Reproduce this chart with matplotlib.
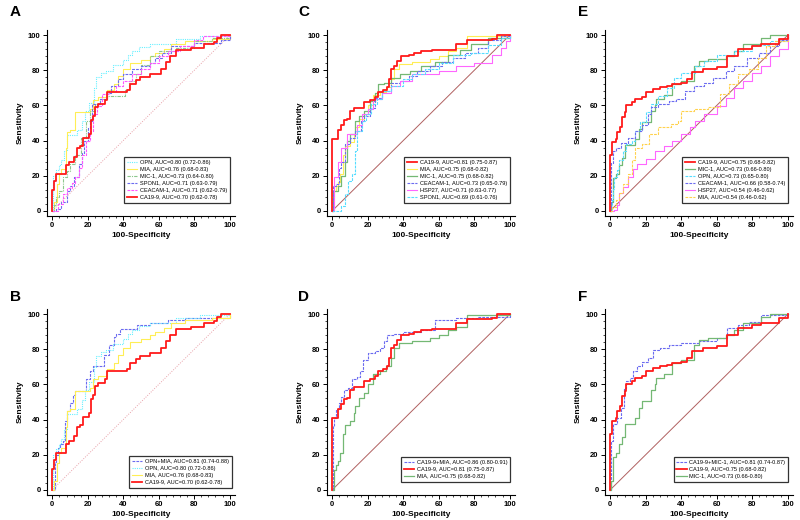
import numpy as np
import matplotlib
matplotlib.use("Agg")
import matplotlib.pyplot as plt
from matplotlib.ticker import MultipleLocator

plt.rcParams['font.family'] = ['Liberation Sans', 'DejaVu Sans']

# ---- ROC curve corner points (100-Specificity, Sensitivity) ----
ca199_a_fpr = [0, 0, 1, 2, 7.5, 9.5, 12.5, 14, 15.5, 17.5, 20.5, 22, 23, 24, 26, 29.5, 31, 42, 44, 47,
               49.5, 55, 61, 64, 66.5, 70, 78, 85.5, 91, 93, 95, 100]
ca199_a_tpr = [0, 12, 17, 21, 26, 28, 30.5, 35.5, 37, 41.5, 43.5, 51.5, 54, 59, 61, 63, 67.5, 69, 72, 74.5,
               76.5, 78, 81, 84.5, 88, 91.5, 93, 95, 96, 98.5, 100, 100]

opn_a_fpr = [0, 0.5, 2, 3.5, 5, 6.5, 8, 11, 14, 16.5, 18.5, 20.5, 23.5, 24.5, 27.5, 30, 34, 40, 42.5, 45,
             49, 55, 70, 83, 100]
opn_a_tpr = [0, 20, 23, 26, 29, 34, 43, 43, 46, 51, 57, 61.5, 70, 76, 78.5, 79.5, 83, 86, 89, 91,
             93.5, 95, 98, 99.5, 100]

mia_a_fpr = [0, 1, 2.5, 4, 5, 7.5, 8.5, 10, 13, 20, 21, 23, 26, 31, 35, 37, 40, 44, 50, 55, 58, 63, 67,
             75, 90, 100]
mia_a_tpr = [0, 5, 15, 21, 24, 36, 45, 46, 56, 56, 58, 63, 65, 69, 72, 77, 81, 84, 86, 88, 90, 92, 95,
             96.5, 98, 100]

mic1_a_fpr = [0, 1, 2, 4, 6, 8, 10, 13, 16, 19, 21, 24, 27, 31, 40, 41, 43, 47, 50, 55, 60, 70, 80, 90, 100]
mic1_a_tpr = [0, 3, 7.6, 11, 19, 22.7, 26.5, 32, 41.7, 51, 57, 60.6, 63.4, 65.3, 65.3, 69, 74, 77.7, 83.3,
              88, 91, 92.8, 96.6, 98.5, 100]

spon1_a_fpr = [0, 2, 5, 8, 10, 12, 15, 16.5, 18, 20, 21, 22.5, 27, 31, 33, 37, 40, 45, 50, 55, 58, 62, 67,
               80, 95, 100]
spon1_a_tpr = [0, 1, 4.7, 11, 14, 19, 26.5, 33, 40, 47, 51, 60.6, 63.4, 67, 71, 74.8, 77.7, 80.5, 82.4,
               84.3, 87, 90, 93.7, 95.6, 97.5, 100]

ceacam_a_fpr = [0, 3, 6, 8, 11, 13, 15, 17, 19, 21, 23, 25, 28, 32, 36, 40, 45, 50, 55, 60, 65, 72, 80, 85, 100]
ceacam_a_tpr = [0, 3.8, 9.5, 13, 16, 19, 24.6, 32, 40, 45.5, 55, 59.7, 66.3, 68, 71, 74, 77.7, 80.5, 84.3,
                88, 91, 93.7, 97.5, 99.4, 100]

opnmia_b_fpr = [0, 1.5, 2, 3, 4.5, 6, 7, 8, 10, 11.5, 13, 18, 19, 21, 23, 27, 29, 32, 34.5, 36, 38, 45, 48,
                55, 65, 75, 100]
opnmia_b_tpr = [0, 15.6, 20, 24, 26, 28, 39, 45, 49.6, 54, 56, 56, 63, 67.5, 70.4, 70.4, 77, 82.6, 86.8, 89,
                91.7, 91.7, 94, 95, 96.8, 98, 100]

ca199_c_fpr = [0, 0, 3.4, 5, 6.5, 8.5, 10, 12.5, 18, 21, 24, 26, 28.5, 31, 32, 33, 35, 36.5, 39, 43, 46, 50,
               56, 68, 70, 76, 90, 93, 100]
ca199_c_tpr = [0, 41, 46, 49, 51.5, 52.5, 57, 58.5, 62, 63, 64.7, 67.5, 69, 70.4, 75, 81, 82.6, 85.5, 88, 89,
               90, 91, 91.7, 91.7, 95, 97.4, 97.7, 100, 100]

mia_c_fpr = [0, 1, 2, 3, 4.5, 6, 7, 10, 12, 13, 15, 18, 20, 23, 27, 30, 33, 35, 37.5, 45, 55, 60, 65, 70,
             76, 100]
mia_c_tpr = [0, 11, 14, 16.6, 21, 32, 37, 39, 44, 48, 52.5, 55, 60, 65.7, 67.5, 70.4, 75, 81, 83.6, 84.5,
             86.4, 88, 91, 93, 99.6, 100]

mic1_c_fpr = [0, 0.5, 3, 5, 7, 8, 10, 13, 15, 18, 21, 24, 26, 29, 33, 38, 44, 50, 58, 65, 72, 78, 88, 100]
mic1_c_tpr = [0, 11, 14, 20, 28, 40, 43.5, 51, 54, 57, 62.8, 67, 72, 73, 75.8, 77.7, 79.5, 82.4, 85, 88.6,
              91.5, 95.3, 98.5, 100]

ceacam_c_fpr = [0, 0.5, 2, 4, 5, 7, 10, 13, 16, 18, 21, 24, 28, 33, 38, 43, 48, 55, 62, 68, 75, 82, 88, 95, 100]
ceacam_c_tpr = [0, 14, 15, 24.6, 28, 38, 41.7, 45.5, 51, 54, 58.7, 64.4, 68, 73, 74, 76.7, 79.5, 82.4, 85,
                87, 90, 92.8, 97.5, 99.4, 100]

hsp27_c_fpr = [0, 1, 3, 5, 8, 13, 14, 17, 20, 23, 28, 33, 38, 45, 60, 70, 80, 90, 95, 98, 100]
hsp27_c_tpr = [0, 19, 28, 36, 43.5, 43.5, 49, 55, 57.8, 63.4, 67.2, 71, 74, 77.7, 79.5, 82.4, 84.3, 89,
               92.8, 96.6, 100]

spon1_c_fpr = [0, 2, 5, 7, 9, 11, 13, 14, 17, 19, 22, 25, 28, 33, 40, 45, 52, 60, 68, 78, 88, 95, 100]
spon1_c_tpr = [0, 0, 2.8, 9.5, 17, 21, 34, 45.5, 51, 55, 60.6, 63.4, 68, 71, 74.8, 77.7, 80.5, 84.3, 89,
               90, 94.7, 98.5, 100]

ca199mia_d_fpr = [0, 0.5, 1, 2, 3.5, 5, 6.5, 9, 11, 14, 15.5, 17.5, 20, 24, 27, 29, 31, 35, 40, 50, 58, 70,
                  82, 100]
ca199mia_d_tpr = [0, 36.4, 41, 46, 49.6, 53, 57, 58, 63, 64, 67.5, 74, 78, 79, 81, 84.5, 88, 89, 90, 91,
                  96.8, 97.7, 98.7, 100]

ca199_e_fpr = [0, 0, 1, 3, 4, 5.5, 6.5, 8, 9, 12, 14, 18, 20, 24, 28, 32, 35, 40, 43, 46, 52, 60, 66, 72,
               80, 85, 95, 100]
ca199_e_tpr = [0, 31.7, 39, 41, 45, 47.7, 53.4, 56, 60, 62, 63.8, 64.7, 67.5, 69.4, 70.4, 71.3, 72.3, 73,
               75, 79, 80.8, 81.7, 88.3, 92, 94, 95, 97.7, 100]

mic1_e_fpr = [0, 0.5, 1.5, 3, 5, 6.5, 8, 13, 14, 16, 18, 22, 23, 25, 26, 30, 35, 40, 47, 50, 55, 65, 70,
              75, 85, 90, 100]
mic1_e_tpr = [0, 5, 18.5, 21, 26, 30, 37.4, 37.4, 41, 46.8, 50.6, 50.6, 57, 60, 63.8, 65.7, 72.3, 74, 82.6,
              85.5, 86.4, 88.3, 91, 95, 98.7, 100, 100]

opn_e_fpr = [0, 1, 1.5, 2, 3.5, 5, 7, 9, 12, 14, 17, 20, 23, 27, 32, 36, 40, 48, 53, 60, 70, 80, 90, 100]
opn_e_tpr = [0, 6, 12.6, 19, 23, 28.7, 34, 38, 40, 45.7, 50.4, 56, 60.8, 65.5, 70.2, 75.8, 78.7, 82.5,
             85.3, 89, 91, 94.7, 96.6, 100]

ceacam_e_fpr = [0, 0.5, 1.5, 3, 6, 10, 14, 18, 21, 23, 27, 33, 37, 42, 47, 53, 58, 65, 70, 77, 84, 90, 95, 100]
ceacam_e_tpr = [0, 27, 34, 36, 38.7, 41.5, 45.3, 49, 55, 59, 60.8, 62.6, 63.6, 68.3, 71, 73, 75.8, 79.6,
                82.5, 87, 90, 93.8, 97.5, 100]

hsp27_e_fpr = [0, 2, 4, 5, 7, 10, 13, 15, 20, 25, 30, 35, 40, 45, 48, 53, 60, 65, 70, 75, 80, 85, 90, 95, 100]
hsp27_e_tpr = [0, 0.4, 3, 10, 13.6, 19, 24, 26.8, 29.6, 34, 37, 40, 43.8, 47.5, 51, 55, 59.8, 64.5, 70, 74,
               78.7, 82.5, 88.3, 92, 100]

mia_e_fpr = [0, 1, 3, 5, 7, 10, 12, 14, 18, 22, 27, 34, 38, 40, 47, 55, 62, 67, 72, 78, 83, 88, 93, 100]
mia_e_tpr = [0, 2, 6, 10, 15.5, 21, 28.7, 36, 38, 43.8, 47.5, 49.4, 51, 57, 58, 59, 66.4, 72, 77.7, 80.6,
             87, 93.8, 96.6, 100]

ca199mic1_f_fpr = [0, 0.5, 1.5, 4, 6, 7.5, 9, 11, 13, 15, 18, 21, 24, 28, 33, 40, 50, 60, 66, 72, 78, 85, 100]
ca199mic1_f_tpr = [0, 28, 37.4, 41, 46.8, 58, 62, 63.8, 67.5, 70.4, 73, 75, 79.6, 80.6, 82.5, 83.6, 84.5,
                   86.4, 92, 94, 95.8, 99.6, 100]

# ---- legend labels ----
labels_a = ["OPN, AUC=0.80 (0.72-0.86)", "MIA, AUC=0.76 (0.68-0.83)", "MIC-1, AUC=0.73 (0.64-0.80)",
            "SPON1, AUC=0.71 (0.63-0.79)", "CEACAM-1, AUC=0.71 (0.62-0.79)", "CA19-9, AUC=0.70 (0.62-0.78)"]
labels_b = ["OPN+MIA, AUC=0.81 (0.74-0.88)", "OPN, AUC=0.80 (0.72-0.86)", "MIA, AUC=0.76 (0.68-0.83)",
            "CA19-9, AUC=0.70 (0.62-0.78)"]
labels_c = ["CA19-9, AUC=0.81 (0.75-0.87)", "MIA, AUC=0.75 (0.68-0.82)", "MIC-1, AUC=0.75 (0.68-0.82)",
            "CEACAM-1, AUC=0.73 (0.65-0.79)", "HSP27, AUC=0.71 (0.63-0.77)", "SPON1, AUC=0.69 (0.61-0.76)"]
labels_d = ["CA19-9+MIA, AUC=0.86 (0.80-0.91)", "CA19-9, AUC=0.81 (0.75-0.87)", "MIA, AUC=0.75 (0.68-0.82)"]
labels_e = ["CA19-9, AUC=0.75 (0.68-0.82)", "MIC-1, AUC=0.73 (0.66-0.80)", "OPN, AUC=0.73 (0.65-0.80)",
            "CEACAM-1, AUC=0.66 (0.58-0.74)", "HSP27, AUC=0.54 (0.46-0.62)", "MIA, AUC=0.54 (0.46-0.62)"]
labels_f = ["CA19-9+MIC-1, AUC=0.81 (0.74-0.87)", "CA19-9, AUC=0.75 (0.68-0.82)", "MIC-1, AUC=0.73 (0.66-0.80)"]

# line styles
RED = dict(color="#ff1a1a", lw=1.3, ls="-")
CYAN_DOT = dict(color="#66f0ff", lw=0.8, ls=(0, (1, 1)))
CYAN_DASH = dict(color="#55ddff", lw=0.8, ls=(0, (2.5, 1)))
YELLOW = dict(color="#ffee55", lw=0.8, ls="-")
YELLOW_DASH = dict(color="#ffd24d", lw=0.8, ls=(0, (2.5, 1)))
GREEN_DD = dict(color="#8cc78c", lw=0.8, ls=(0, (3, 1, 1, 1)))
GREEN = dict(color="#74b874", lw=0.9, ls="-")
BLUE_DASH = dict(color="#6b6bf0", lw=0.8, ls=(0, (2.5, 1)))
MAG_DASH = dict(color="#ff55ff", lw=0.8, ls=(0, (2.5, 1)))
MAG = dict(color="#ff66ff", lw=0.8, ls="-")


def draw_panel(ax, curves, labels, diag_dotted, legend_box):
    if diag_dotted:
        ax.plot([0, 100], [0, 100], color="#e8a0a8", lw=0.7, ls=(0, (1, 1.5)), zorder=1)
    else:
        ax.plot([0, 100], [0, 100], color="#b06060", lw=0.7, zorder=1)
    handles = []
    for (fpr, tpr, style), lab in zip(curves, labels):
        h, = ax.plot(fpr, tpr, drawstyle="steps-post", label=lab, zorder=3 if style is RED else 2, **style)
        handles.append(h)
    ax.set_xlim(-3, 103)
    ax.set_ylim(-3, 103)
    for s in ["top", "right"]:
        ax.spines[s].set_visible(False)
    ax.spines["left"].set_linewidth(0.8)
    ax.spines["bottom"].set_linewidth(0.8)
    ax.xaxis.set_major_locator(MultipleLocator(20))
    ax.yaxis.set_major_locator(MultipleLocator(20))
    ax.xaxis.set_minor_locator(MultipleLocator(4))
    ax.yaxis.set_minor_locator(MultipleLocator(4))
    ax.tick_params(which="major", length=3, width=0.7, labelsize=5.5, pad=1.5)
    ax.tick_params(which="minor", length=1.5, width=0.5)
    for t in ax.get_xticklabels() + ax.get_yticklabels():
        t.set_fontweight("bold")
    ax.set_xlabel("100-Specificity", fontsize=6, fontweight="bold", labelpad=2)
    ax.set_ylabel("Sensitivity", fontsize=6, fontweight="bold", labelpad=3)
    leg = ax.legend(handles=handles, loc="lower right", bbox_to_anchor=legend_box,
                    fontsize=4.1, frameon=True, fancybox=False, handlelength=1.8,
                    handletextpad=0.5, borderpad=0.5, labelspacing=0.35, borderaxespad=0)
    leg.get_frame().set_edgecolor("black")
    leg.get_frame().set_linewidth(0.9)


fig = plt.figure(figsize=(8, 5.2), dpi=100)

ax_w = 188 / 800
ax_h = 186 / 520
ax_a = fig.add_axes([47 / 800, 304 / 520, ax_w, ax_h])
ax_c = fig.add_axes([327 / 800, 304 / 520, ax_w, ax_h])
ax_e = fig.add_axes([605 / 800, 304 / 520, ax_w, ax_h])
ax_b = fig.add_axes([47 / 800, 25 / 520, ax_w, ax_h])
ax_d = fig.add_axes([327 / 800, 25 / 520, ax_w, ax_h])
ax_f = fig.add_axes([605 / 800, 25 / 520, ax_w, ax_h])

draw_panel(ax_a, [(opn_a_fpr, opn_a_tpr, CYAN_DOT), (mia_a_fpr, mia_a_tpr, YELLOW),
                  (mic1_a_fpr, mic1_a_tpr, GREEN_DD), (spon1_a_fpr, spon1_a_tpr, BLUE_DASH),
                  (ceacam_a_fpr, ceacam_a_tpr, MAG_DASH), (ca199_a_fpr, ca199_a_tpr, RED)],
           labels_a, True, (0.975, 0.07))
draw_panel(ax_b, [(opnmia_b_fpr, opnmia_b_tpr, BLUE_DASH), (opn_a_fpr, opn_a_tpr, CYAN_DOT),
                  (mia_a_fpr, mia_a_tpr, YELLOW), (ca199_a_fpr, ca199_a_tpr, RED)],
           labels_b, True, (0.985, 0.04))
draw_panel(ax_c, [(ca199_c_fpr, ca199_c_tpr, RED), (mia_c_fpr, mia_c_tpr, YELLOW),
                  (mic1_c_fpr, mic1_c_tpr, GREEN), (ceacam_c_fpr, ceacam_c_tpr, BLUE_DASH),
                  (hsp27_c_fpr, hsp27_c_tpr, MAG), (spon1_c_fpr, spon1_c_tpr, CYAN_DASH)],
           labels_c, False, (0.975, 0.07))
draw_panel(ax_d, [(ca199mia_d_fpr, ca199mia_d_tpr, BLUE_DASH), (ca199_c_fpr, ca199_c_tpr, RED),
                  (mia_c_fpr, mia_c_tpr, GREEN)],
           labels_d, False, (0.975, 0.07))
draw_panel(ax_e, [(ca199_e_fpr, ca199_e_tpr, RED), (mic1_e_fpr, mic1_e_tpr, GREEN),
                  (opn_e_fpr, opn_e_tpr, CYAN_DASH), (ceacam_e_fpr, ceacam_e_tpr, BLUE_DASH),
                  (hsp27_e_fpr, hsp27_e_tpr, MAG), (mia_e_fpr, mia_e_tpr, YELLOW_DASH)],
           labels_e, False, (0.975, 0.07))
draw_panel(ax_f, [(ca199mic1_f_fpr, ca199mic1_f_tpr, BLUE_DASH), (ca199_e_fpr, ca199_e_tpr, RED),
                  (mic1_e_fpr, mic1_e_tpr, GREEN)],
           labels_f, False, (0.975, 0.07))

# panel letters
for letter, x, y in [("A", 10, 12), ("C", 298, 12), ("E", 578, 12),
                     ("B", 10, 297), ("D", 298, 297), ("F", 578, 297)]:
    fig.text(x / 800, 1 - y / 520, letter, fontsize=11, fontweight="bold", va="center", ha="left")

fig.savefig("out.png", dpi=100)
